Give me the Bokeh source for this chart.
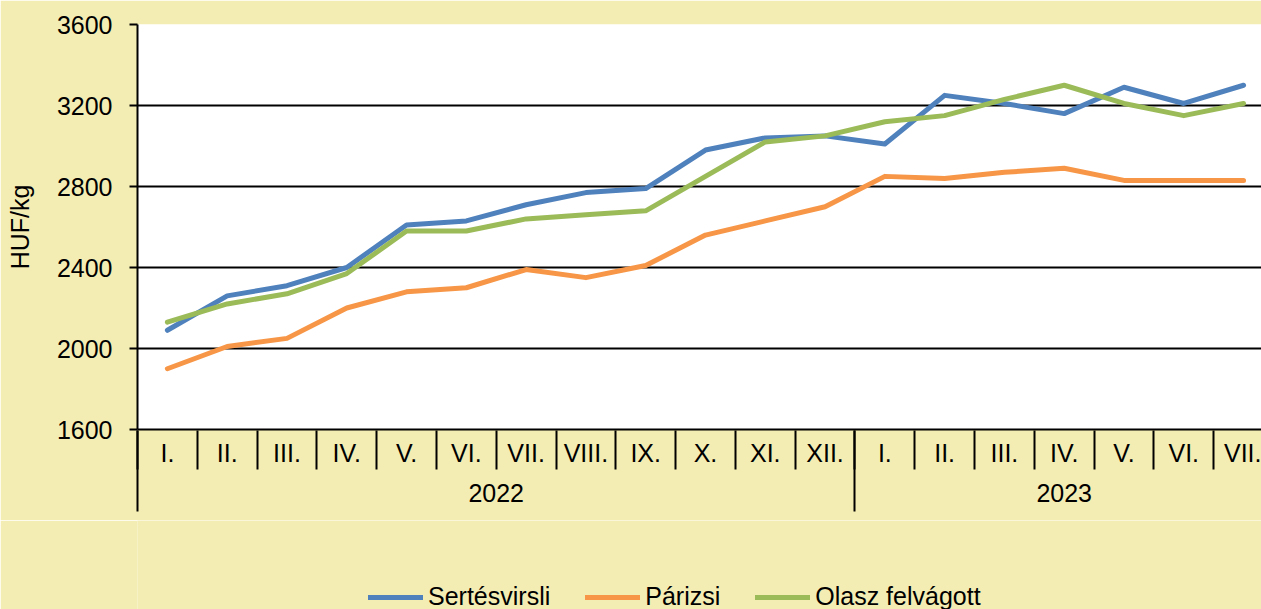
from bokeh.plotting import figure
from bokeh.models import Range1d, FixedTicker, LinearAxis, Legend, LegendItem
from bokeh.layouts import column
from bokeh.embed import file_html
from bokeh.resources import INLINE

months = ["I.", "II.", "III.", "IV.", "V.", "VI.", "VII.", "VIII.", "IX.", "X.", "XI.", "XII.",
          "I.", "II.", "III.", "IV.", "V.", "VI.", "VII."]
years = ["2022", "2023"]
year_counts = [12, 7]

sertesvirsli = [2090, 2260, 2310, 2400, 2610, 2630, 2710, 2770, 2790, 2980, 3040, 3050,
                3010, 3250, 3210, 3160, 3290, 3210, 3300]
parizsi = [1900, 2010, 2050, 2200, 2280, 2300, 2390, 2350, 2410, 2560, 2630, 2700,
           2850, 2840, 2870, 2890, 2830, 2830, 2830]
olasz = [2130, 2220, 2270, 2370, 2580, 2580, 2640, 2660, 2680, 2850, 3020, 3050,
         3120, 3150, 3230, 3300, 3210, 3150, 3210]
series_names = ["Sertésvirsli", "Párizsi", "Olasz felvágott"]
y_ticks = [1600, 2000, 2400, 2800, 3200, 3600]

FONT = "Liberation Sans"
BG = "#F4EDB3"
COLORS = ["#4F81BD", "#F79646", "#9BBB59"]

x = [i + 0.5 for i in range(len(months))]
boundaries = list(range(len(months) + 1))
year_starts = [0, year_counts[0]]
year_centers = [year_counts[0] / 2, year_counts[0] + year_counts[1] / 2]
all_series = [sertesvirsli, parizsi, olasz]

p = figure(width=1261, height=520, output_backend="svg", toolbar_location=None,
           x_range=Range1d(0, 18.8), y_range=Range1d(1600, 3600),
           x_axis_location=None)
p.min_border_left = 137
p.min_border_top = 24
p.min_border_right = 0
p.min_border_bottom = 91
p.background_fill_color = "white"
p.border_fill_color = BG
p.outline_line_color = None
p.xgrid.visible = False

# y axis
ya = p.yaxis[0]
ya.ticker = FixedTicker(ticks=y_ticks)
ya.axis_line_color = "black"
ya.axis_line_width = 2
ya.major_tick_out = 8
ya.major_tick_in = 0
ya.major_tick_line_width = 2
ya.minor_tick_line_color = None
ya.major_label_standoff = 17
ya.major_label_text_font = FONT
ya.major_label_text_font_size = "25px"
ya.major_label_text_color = "black"
ya.axis_label = "HUF/kg"
ya.axis_label_text_font = FONT
ya.axis_label_text_font_size = "25px"
ya.axis_label_text_font_style = "normal"
ya.axis_label_text_color = "black"
ya.axis_label_standoff = 20

p.ygrid.grid_line_color = "black"
p.ygrid.grid_line_width = 2

# month labels (axis line at the bottom of the plot)
ax1 = LinearAxis(ticker=FixedTicker(ticks=x),
                 major_label_overrides={xi: m for xi, m in zip(x, months)})
ax1.axis_line_color = "black"
ax1.axis_line_width = 2
ax1.major_tick_out = 0
ax1.major_tick_in = 0
ax1.major_tick_line_color = None
ax1.minor_tick_line_color = None
ax1.major_label_standoff = 9
ax1.major_label_text_font = FONT
ax1.major_label_text_font_size = "25px"
ax1.major_label_text_color = "black"
p.add_layout(ax1, "below")

# year labels, with month separators reaching up to the plot
ax2 = LinearAxis(ticker=FixedTicker(ticks=year_centers, minor_ticks=boundaries),
                 major_label_overrides={c: y for c, y in zip(year_centers, years)})
ax2.axis_line_color = None
ax2.major_tick_out = 0
ax2.major_tick_in = 0
ax2.major_tick_line_color = None
ax2.minor_tick_out = 0
ax2.minor_tick_in = 39
ax2.minor_tick_line_color = "black"
ax2.minor_tick_line_width = 2
ax2.major_label_standoff = 14
ax2.major_label_text_font = FONT
ax2.major_label_text_font_size = "25px"
ax2.major_label_text_color = "black"
p.add_layout(ax2, "below")

# year separators
ax3 = LinearAxis(ticker=FixedTicker(ticks=year_starts),
                 major_label_overrides={s: "" for s in year_starts})
ax3.axis_line_color = None
ax3.major_tick_out = 7
ax3.major_tick_in = 74
ax3.major_tick_line_color = "black"
ax3.major_tick_line_width = 2
ax3.minor_tick_line_color = None
ax3.major_label_standoff = 0
ax3.major_label_text_font_size = "1px"
p.add_layout(ax3, "below")

for vals, c in zip(all_series, COLORS):
    p.line(x, vals, line_color=c, line_width=5, line_cap="round", line_join="round")

# legend strip under the chart (its lines fall outside this strip's range)
p2 = figure(width=1261, height=89, output_backend="svg", toolbar_location=None,
            x_range=Range1d(0, 1), y_range=Range1d(0, 1),
            x_axis_location=None, y_axis_location=None)
p2.min_border = 0
p2.background_fill_color = BG
p2.border_fill_color = BG
p2.outline_line_color = None
p2.xgrid.visible = False
p2.ygrid.visible = False
leg_r = [p2.line(x, vals, line_color=c, line_width=5, line_cap="round")
         for vals, c in zip(all_series, COLORS)]

legend = Legend(items=[LegendItem(label=n, renderers=[r]) for n, r in zip(series_names, leg_r)],
                orientation="horizontal", location=(231, -2),
                glyph_width=55, glyph_height=24, label_height=24, label_standoff=5,
                spacing=35, padding=0, margin=0,
                background_fill_color=None, border_line_color=None,
                label_text_font=FONT, label_text_font_size="25px", label_text_color="black")
p2.add_layout(legend, "center")

layout = column(p, p2, spacing=0)
open("out.html", "w").write(file_html(layout, INLINE))
